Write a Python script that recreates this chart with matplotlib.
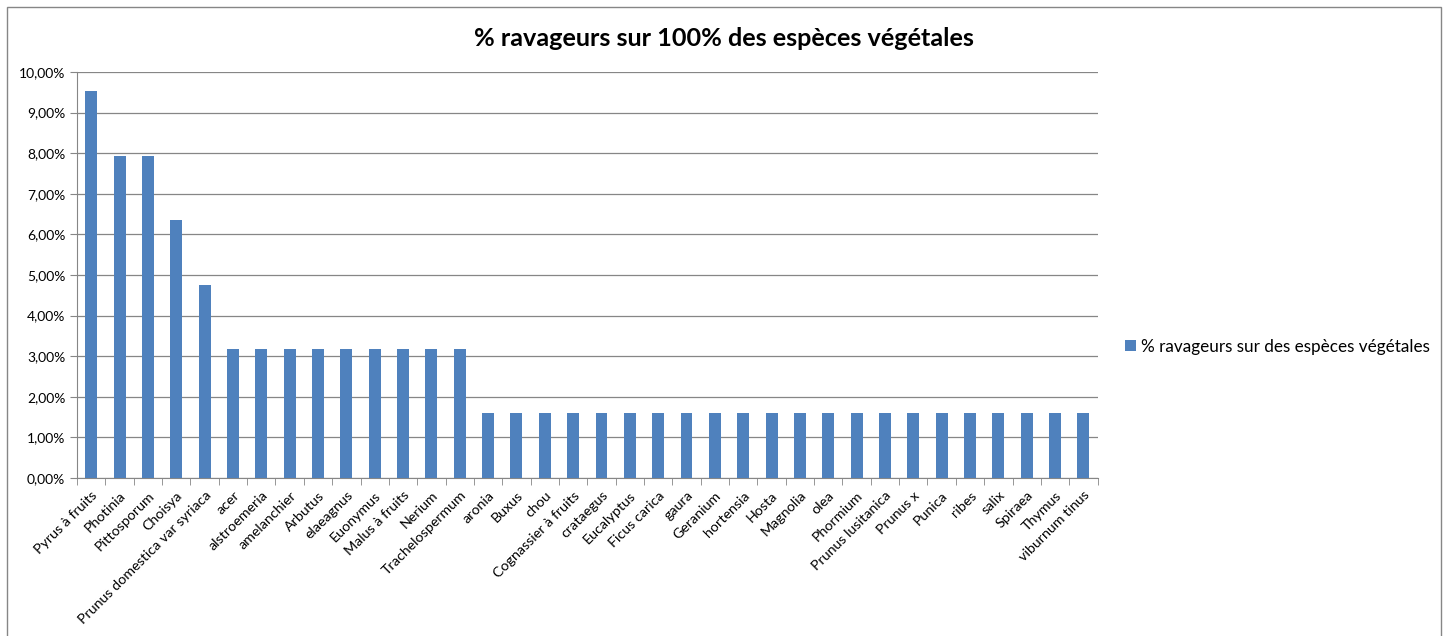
#!/usr/bin/env python3
import matplotlib
matplotlib.use("Agg")
import matplotlib.pyplot as plt
import numpy as np
from matplotlib.patches import Rectangle
from matplotlib.ticker import FuncFormatter, FixedLocator

plt.rcParams['font.family'] = ['Lato', 'DejaVu Sans']

especes = ["Pyrus à fruits", "Photinia", "Pittosporum", "Choisya",
           "Prunus domestica var syriaca", "acer", "alstroemeria", "amelanchier",
           "Arbutus", "elaeagnus", "Euonymus", "Malus à fruits", "Nerium",
           "Trachelospermum", "aronia", "Buxus", "chou", "Cognassier à fruits",
           "crataegus", "Eucalyptus", "Ficus carica", "gaura", "Geranium",
           "hortensia", "Hosta", "Magnolia", "olea", "Phormium",
           "Prunus lusitanica", "Prunus x", "Punica", "ribes", "salix",
           "Spiraea", "Thymus", "viburnum tinus"]
pourcentages = [9.52, 7.94, 7.94, 6.35, 4.76] + [3.17] * 9 + [1.59] * 22

def grafico():
    fig = plt.figure(figsize=(14.48, 6.36), dpi=100)
    ax = fig.add_axes([0.0532, 0.2484, 0.7048, 0.6384])

    x = np.arange(len(especes))
    ax.bar(x, pourcentages, width=0.42, color='#4f81bd', zorder=3,
           label='% ravageurs sur des espèces végétales')

    ax.set_xlim(-0.5, len(especes) - 0.5)
    ax.set_ylim(0, 10)
    ax.set_yticks(np.arange(0, 11, 1))
    ax.yaxis.set_major_formatter(FuncFormatter(lambda v, p: f"{v:.2f}%".replace('.', ',')))
    ax.grid(axis='y', color='#868686', linewidth=0.9, zorder=0)

    ax.set_xticks(x)
    ax.set_xticklabels(especes, rotation=45, ha='right', rotation_mode='anchor', fontsize=10.3)
    ax.xaxis.set_minor_locator(FixedLocator(np.arange(-0.5, len(especes), 1)))
    ax.tick_params(axis='x', which='major', length=0, pad=8)
    ax.tick_params(axis='x', which='minor', length=5, color='#868686')
    ax.tick_params(axis='y', length=5, color='#868686', labelsize=10)

    for s in ['top', 'right']:
        ax.spines[s].set_visible(False)
    ax.spines['left'].set_color('#868686')
    ax.spines['bottom'].set_color('#868686')

    fig.suptitle('% ravageurs sur 100% des espèces végétales', x=0.5, y=0.957,
                 fontsize=18.2, fontweight='bold')

    fig.legend(loc='center left', bbox_to_anchor=(0.766, 0.455), frameon=False,
               fontsize=12.3, handlelength=0.65, handleheight=0.65, handletextpad=0.3)

    fig.patches.append(Rectangle((7 / 1448, -0.05), 1434 / 1448, 1.05 - 7 / 636,
                                 transform=fig.transFigure, fill=False,
                                 edgecolor='#868686', linewidth=1))

    fig.savefig('out.png', dpi=100)


if __name__ == "__main__":
    grafico()
